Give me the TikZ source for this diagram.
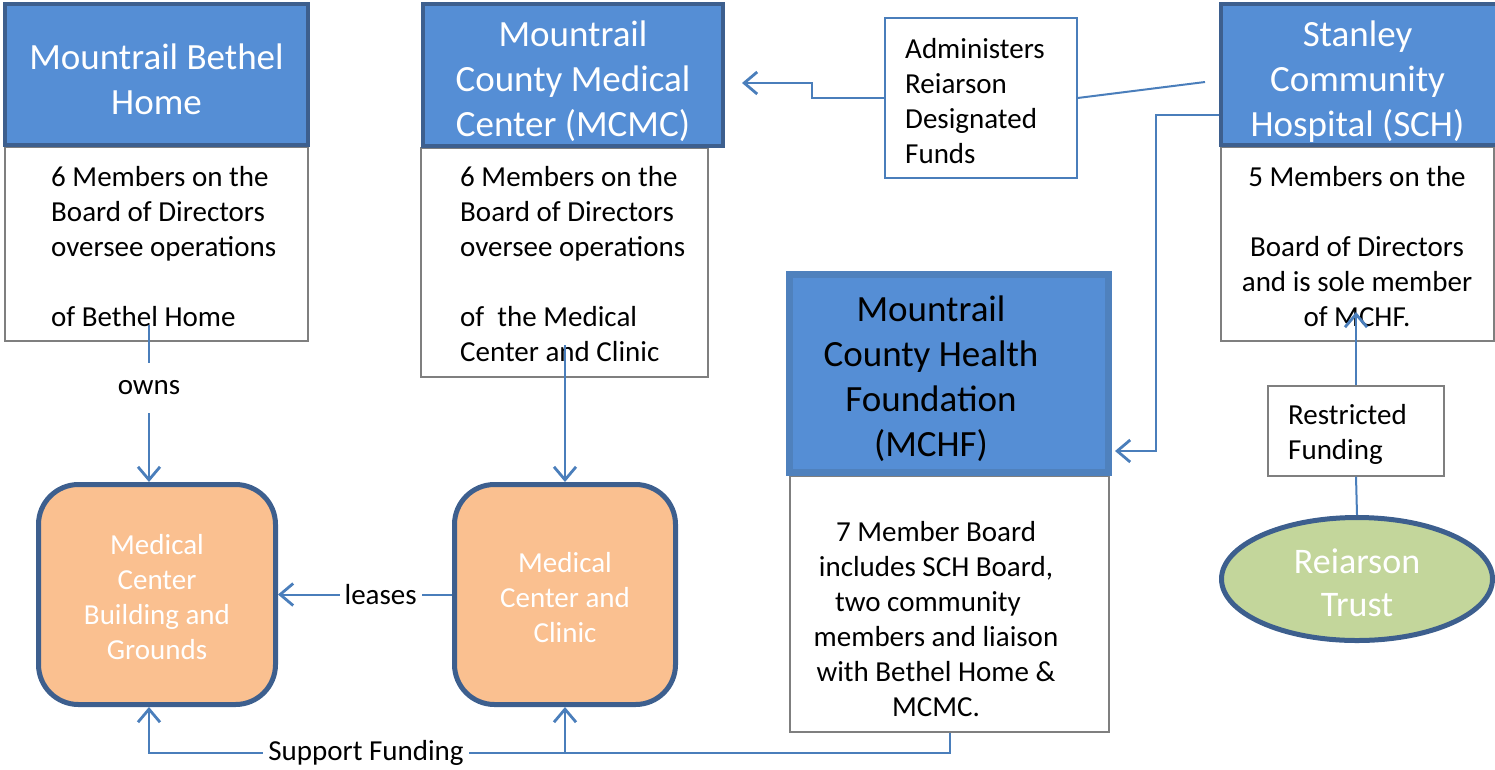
\documentclass[tikz,border=0pt]{standalone}
\usepackage{fontspec}
\setmainfont{Carlito}
\usetikzlibrary{arrows.meta,shapes.geometric,calc}
\definecolor{hfill}{HTML}{558ED5}
\definecolor{hbord}{HTML}{3D5F8E}
\definecolor{mbord}{HTML}{4F81BD}
\definecolor{lc}{HTML}{4A7EBB}
\definecolor{ofill}{HTML}{FAC090}
\definecolor{gfill}{HTML}{C3D69B}
\definecolor{gb}{HTML}{7F7F7F}
\tikzset{
 hdr/.style={rectangle, fill=hfill, draw=hbord, line width=4.5pt, inner sep=0pt},
 htxt/.style={text=white, align=center, inner sep=0pt, font=\fontsize{37}{45}\selectfont},
 bodybox/.style={rectangle, draw=gb, line width=1.2pt, fill=white, inner sep=0pt},
 txt/.style={align=left, inner sep=0pt, font=\fontsize{29}{35}\selectfont},
 ctxt/.style={align=center, inner sep=0pt, font=\fontsize{29}{35}\selectfont},
 orng/.style={rectangle, rounded corners=40pt, fill=ofill, draw=hbord, line width=5pt, inner sep=0pt},
 otxt/.style={text=white, align=center, inner sep=0pt, font=\fontsize{29}{35}\selectfont},
 conn/.style={draw=lc, line width=2pt},
 tip/.style={-{Straight Barb[length=13pt,width=22pt,line width=2.8pt]}},
 lbl/.style={fill=white, inner xsep=5pt, inner ysep=3pt, font=\fontsize{29}{35}\selectfont},
}
\begin{document}
\begin{tikzpicture}[x=1pt,y=-1pt]
\useasboundingbox (0,0) rectangle (1495,769);
% bodies
\node[bodybox, minimum width=303pt, minimum height=194pt] (bethB) at (156.5,244) {};
\node[bodybox, minimum width=287pt, minimum height=229pt] (mcmcB) at (564.5,262.5) {};
\node[bodybox, minimum width=273pt, minimum height=194pt] (schB) at (1357.5,244) {};
\node[bodybox, minimum width=319pt, minimum height=256pt] (mchfB) at (949.5,604) {};
\node[bodybox, draw=lc, minimum width=192pt, minimum height=160pt] (admin) at (981,98) {};
\node[bodybox, minimum width=176pt, minimum height=90pt] (restr) at (1356,431) {};
% headers
\node[hdr, minimum width=303pt, minimum height=141pt] (bethH) at (156.5,74.5) {};
\node[hdr, minimum width=300pt, minimum height=142pt] (mcmcH) at (573,75) {};
\node[hdr, minimum width=284pt, minimum height=141pt] (schH) at (1363,74.5) {};
\node[hdr, draw=mbord, line width=7pt, minimum width=319pt, minimum height=198pt] (mchfH) at (949,373.5) {};
\node[htxt] (bethHT) at (156.5,79) {Mountrail Bethel\\Home};
\node[htxt] (mcmcHT) at (573,81) {Mountrail\\County Medical\\Center (MCMC)};
\node[htxt] (schHT) at (1357.5,81.5) {Stanley\\Community\\Hospital (SCH)};
\node[htxt, text=black] (mchfT) at (931,379) {Mountrail\\County Health\\Foundation\\(MCHF)};
% body texts
\node[txt, anchor=west] (bethT) at (51,247) {6 Members on the\\Board of Directors\\oversee operations\\[35pt]of Bethel Home};
\node[txt, anchor=west] (mcmcT) at (460,264.5) {6 Members on the\\Board of Directors\\oversee operations\\[35pt]of\ \ the Medical\\Center and Clinic};
\node[ctxt] (schT) at (1357,247) {5 Members on the\\[35pt]Board of Directors\\and is sole member\\of MCHF.};
\node[ctxt] (mchfBT) at (936,619.5) {7 Member Board\\includes SCH Board,\\two community\rule{16pt}{0pt}\\members and liaison\\with Bethel Home \&\\MCMC.};
\node[txt, anchor=west] (adminT) at (905,101.5) {Administers\\Reiarson\\Designated\\Funds};
\node[txt, anchor=west] (restrT) at (1288,434.5) {Restricted\\Funding};
% orange and ellipse
\node[orng, minimum width=237pt, minimum height=220pt] (bldO) at (157,594.5) {};
\node[orng, minimum width=221pt, minimum height=220pt] (medO) at (565,594.5) {};
\node[otxt] (bldT) at (157,597.5) {Medical\\Center\\Building and\\Grounds};
\node[otxt] (medT) at (565,597.5) {Medical\\Center and\\Clinic};
\node[ellipse, fill=gfill, draw=hbord, line width=5pt, minimum width=271pt, minimum height=123pt, inner sep=0pt] (trust) at (1357,579) {};
\node[otxt, font=\fontsize{36}{43}\selectfont] (trustT) at (1357,583) {Reiarson\\Trust};
% coordinates
\coordinate (ownsS) at (149,325);
\coordinate (mcmcS) at (565,345);
\coordinate (sfL) at (149,753);
\coordinate (adminS) at (1205,82);
\coordinate (mcmcTip) at (742,83);
\coordinate (schL) at (1219,115);
\coordinate (schTurn) at (1156,115);
\coordinate (mchfTip) at (1115,451);
\coordinate (schTip) at (1356,312);
% connectors
\draw[conn,tip] (ownsS) -- node[lbl, pos=0.40, inner ysep=18pt, inner xsep=2pt] (ownsL) {owns} (bldO.north -| ownsS);
\draw[conn,tip] (mcmcS) -- (medO.north);
\draw[conn,tip] (medO.west) -- node[lbl, pos=0.41] (leasesL) {leases} (bldO.east);
\draw[conn,tip] (mchfB.south) |- (sfL) -- (bldO.south -| sfL);
\draw[conn,tip] (medO.south |- sfL) -- (medO.south);
\node[lbl] (sfLbl) at (366,753) {Support Funding};
\draw[conn] (adminS) -- (admin.east);
\draw[conn,tip] (admin.west) -- ++(-72,0) |- (mcmcTip);
\draw[conn,tip] (schL) -- (schTurn) |- (mchfTip);
\draw[conn] (trust.north) -- (restr.south);
\draw[conn,tip] (restr.north) -- (schTip);
\end{tikzpicture}
\end{document}
